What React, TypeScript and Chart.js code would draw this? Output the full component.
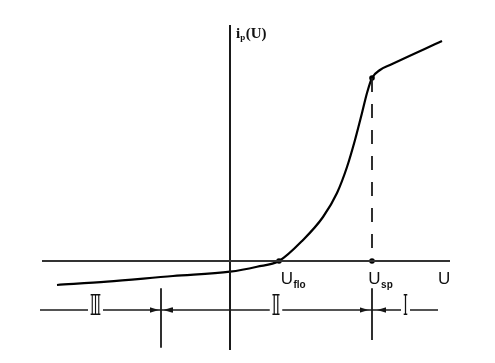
import React, { useEffect, useRef } from "react";
import { Chart, registerables } from "chart.js";
Chart.register(...registerables);

// Probe characteristic i_p(U) (schematic units)
const curveU = [-17.3, -12.3, -5.7, 0, 2.7, 4.9, 7.3, 9.3, 10.7, 11.7, 12.5, 13.2, 13.7, 14.2, 15.0, 16.0, 21.2];
const curveI = [-2.4, -2.07, -1.5, -1.07, -0.57, 0, 2.1, 4.4, 6.8, 9.4, 12.1, 14.8, 16.8, 18.3, 19.1, 19.6, 22.0];

// Axes extents
const uAxisRange = [-18.8, 22];
const iAxisRange = [-8.9, 23.6];

// Characteristic potentials
const U_flo = 4.9;
const U_sp = 14.2;
const I_sp = 18.3;

// Region bar under the axis
const regionY = -4.9;
const regionRange = [-19, 20.8];
const boundaryU = [-6.9, 14.2];
const boundaryTop = [-2.73, -2.73];
const boundaryBottom = [-8.67, -7.9];
const arrowU = [-7.57, -6.2, 13.4, 15.17];
const arrowRot = [0, 180, 0, 180];
const regionLabels = ["Ⅲ", "Ⅱ", "Ⅰ"];
const regionLabelU = [-13.45, 4.6, 17.55];
const regionLabelW = [11, 8.5, 5];

// Axis labels
const potentialLabels = [
  { main: "U", sub: "flo", u: 5.07, i: -2.25 },
  { main: "U", sub: "sp", u: 13.83, i: -2.25 },
  { main: "U", sub: "", u: 20.8, i: -2.25 },
];
const currentLabel = { main: "i", sub: "p", rest: "(U)", u: 0.6, i: 22.3 };

export default function App() {
  const ref = useRef<HTMLCanvasElement | null>(null);
  useEffect(() => {
    document.body.style.margin = "0";
    const canvas = ref.current!;
    const arrow = document.createElement("canvas");
    arrow.width = 9;
    arrow.height = 6;
    const actx = arrow.getContext("2d")!;
    actx.fillStyle = "#111";
    actx.beginPath();
    actx.moveTo(0, 0.3);
    actx.lineTo(9, 3);
    actx.lineTo(0, 5.7);
    actx.closePath();
    actx.fill();

    const seg = (xs: number[], ys: number[]) => xs.map((x, k) => ({ x, y: ys[k] }));
    const lineDs = (data: any[], extra: any = {}) => ({
      data,
      showLine: true,
      pointRadius: 0,
      borderColor: "#1a1a1a",
      borderWidth: 2,
      ...extra,
    });

    const textPlugin = {
      id: "texts",
      afterDatasetsDraw(chart: any) {
        const ctx = chart.ctx as CanvasRenderingContext2D;
        const sx = chart.scales.x;
        const sy = chart.scales.y;
        ctx.save();
        ctx.fillStyle = "#111";
        ctx.textBaseline = "alphabetic";
        ctx.textAlign = "left";
        for (const l of potentialLabels) {
          const px = sx.getPixelForValue(l.u);
          const py = sy.getPixelForValue(l.i);
          ctx.font = "17px 'Liberation Sans', Arial, sans-serif";
          ctx.fillText(l.main, px, py);
          const w = ctx.measureText(l.main).width;
          if (l.sub) {
            ctx.font = "bold 10px 'Liberation Sans', Arial, sans-serif";
            ctx.fillText(l.sub, px + w + 0.5, py + 4);
          }
        }
        // current label
        {
          const px = sx.getPixelForValue(currentLabel.u);
          const py = sy.getPixelForValue(currentLabel.i);
          ctx.font = "bold 15px 'Liberation Serif', 'Times New Roman', serif";
          ctx.fillText(currentLabel.main, px, py);
          let x = px + ctx.measureText(currentLabel.main).width;
          ctx.font = "bold 9px 'Liberation Serif', 'Times New Roman', serif";
          ctx.fillText(currentLabel.sub, x, py + 2);
          x += ctx.measureText(currentLabel.sub).width + 0.5;
          ctx.font = "bold 15px 'Liberation Serif', 'Times New Roman', serif";
          ctx.fillText(currentLabel.rest, x, py);
        }
        // region numerals
        regionLabels.forEach((t, k) => {
          const px = sx.getPixelForValue(regionLabelU[k]);
          const py = sy.getPixelForValue(regionY);
          const tw = regionLabelW[k];
          ctx.fillStyle = "#fff";
          ctx.fillRect(px - tw / 2 - 2, py - 4, tw + 4, 8);
          ctx.fillStyle = "#111";
          ctx.font = "27px 'DejaVu Serif', serif";
          const m = ctx.measureText(t).width;
          ctx.save();
          ctx.translate(px, py - 2);
          ctx.scale(tw / m, 1);
          ctx.textAlign = "center";
          ctx.textBaseline = "middle";
          ctx.fillText(t, 0, 0);
          ctx.restore();
        });
        ctx.restore();
      },
    };

    const chart = new Chart(canvas, {
      type: "scatter",
      data: {
        datasets: [
          lineDs(seg(uAxisRange, [0, 0]), { borderColor: "#333", borderWidth: 1.8 }),
          lineDs(seg([0, 0], iAxisRange), { borderWidth: 2 }),
          lineDs(seg([U_sp, U_sp], [I_sp, 0]), { borderWidth: 1.8, borderDash: [14, 12] }),
          lineDs(seg(curveU, curveI), { borderColor: "#000", borderWidth: 2.2, cubicInterpolationMode: "monotone" }),
          lineDs(seg(regionRange, [regionY, regionY]), { borderWidth: 1.6 }),
          lineDs(seg([boundaryU[0], boundaryU[0]], [boundaryTop[0], boundaryBottom[0]]), { borderWidth: 1.8 }),
          lineDs(seg([boundaryU[1], boundaryU[1]], [boundaryTop[1], boundaryBottom[1]]), { borderWidth: 1.8 }),
          {
            data: seg([U_flo, U_sp, U_sp], [0, 0, I_sp]),
            showLine: false,
            pointRadius: 2.8,
            pointBackgroundColor: "#000",
            pointBorderWidth: 0,
          },
          {
            data: seg(arrowU, arrowU.map(() => regionY)),
            showLine: false,
            pointStyle: arrow,
            pointRotation: arrowRot,
            pointRadius: 4,
          },
        ],
      },
      options: {
        animation: false,
        responsive: false,
        maintainAspectRatio: false,
        events: [],
        layout: { padding: 0, autoPadding: false },
        plugins: { legend: { display: false }, tooltip: { enabled: false } },
        scales: {
          x: { type: "linear", display: false, min: -23, max: 26.5 },
          y: { type: "linear", display: false, min: -10.2, max: 26.1 },
        },
      } as any,
      plugins: [textPlugin],
    });
    return () => chart.destroy();
  }, []);
  return (
    <div style={{ width: 495, height: 363, background: "#fff" }}>
      <canvas ref={ref} width={495} height={363} />
    </div>
  );
}
